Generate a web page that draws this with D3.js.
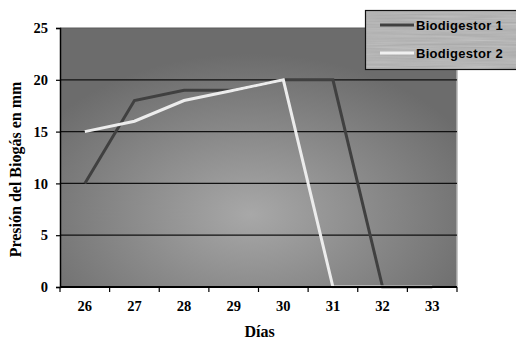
<!DOCTYPE html>
<html>
<head>
<meta charset="utf-8">
<script src="https://cdn.jsdelivr.net/npm/d3@7"></script>
<style>
  html, body { margin: 0; padding: 0; background: #fff; }
  svg { display: block; }
</style>
</head>
<body>
<svg id="chart" width="516" height="341"></svg>
<script>
// Biogas pressure per day for two digesters
const days = ["26", "27", "28", "29", "30", "31", "32", "33"];
const biodigestor1 = [10, 18, 19, 19, 20, 20, 0, 0];
const biodigestor2 = [15, 16, 18, 19, 20, 0, 0, 0];
const seriesNames = ["Biodigestor 1", "Biodigestor 2"];
const yTicks = [0, 5, 10, 15, 20, 25];

const W = 516, H = 341;
const m = { left: 60, right: 59, top: 28, bottom: 54 };
const svg = d3.select("#chart");
const defs = svg.append("defs");
const serif = "'Liberation Serif', 'Times New Roman', serif";

const x = d3.scaleBand().domain(days).range([m.left, W - m.right]).paddingInner(0).paddingOuter(0);
const y = d3.scaleLinear().domain([0, 25]).range([H - m.bottom, m.top]);

// Plot-area shading: lighter in the middle, darker towards the edges
const grad = defs.append("radialGradient").attr("id", "plotBg")
  .attr("cx", "48%").attr("cy", "72%").attr("r", "62%");
grad.append("stop").attr("offset", "0%").attr("stop-color", "#a8a8a8");
grad.append("stop").attr("offset", "100%").attr("stop-color", "#6c6c6c");

// Legend texture
const filt = defs.append("filter").attr("id", "grain").attr("x", 0).attr("y", 0).attr("width", 1).attr("height", 1);
filt.append("feTurbulence").attr("type", "fractalNoise").attr("baseFrequency", "0.015 0.5").attr("numOctaves", 2).attr("seed", 4).attr("result", "n");
filt.append("feColorMatrix").attr("in", "n").attr("type", "matrix")
  .attr("values", "0 0 0 0 0.58  0 0 0 0 0.58  0 0 0 0 0.58  0.9 0 0 0 0").attr("result", "c");
filt.append("feComposite").attr("in", "c").attr("in2", "SourceGraphic").attr("operator", "in");

svg.append("rect")
  .attr("x", m.left).attr("y", m.top)
  .attr("width", W - m.left - m.right).attr("height", H - m.top - m.bottom)
  .attr("fill", "url(#plotBg)");

// right edge highlight of the plot area
svg.append("line")
  .attr("x1", W - m.right).attr("x2", W - m.right)
  .attr("y1", m.top).attr("y2", H - m.bottom)
  .attr("stroke", "#b4b4b4").attr("stroke-width", 1.5);

// horizontal gridlines
svg.append("g").selectAll("line")
  .data(yTicks.filter(d => d > 0 && d < 25))
  .join("line")
  .attr("x1", m.left).attr("x2", W - m.right)
  .attr("y1", d => y(d)).attr("y2", d => y(d))
  .attr("stroke", "#111").attr("stroke-width", 1.2);

// top edge
svg.append("line")
  .attr("x1", m.left).attr("x2", W - m.right)
  .attr("y1", y(25)).attr("y2", y(25))
  .attr("stroke", "#5a5a5a").attr("stroke-width", 1);

// series lines
const line = d3.line().x((d, i) => x(days[i]) + x.bandwidth() / 2).y(d => y(d));
svg.append("path").datum(biodigestor1).attr("d", line)
  .attr("fill", "none").attr("stroke", "#404040").attr("stroke-width", 3);
svg.append("path").datum(biodigestor2).attr("d", line)
  .attr("fill", "none").attr("stroke", "#ececec").attr("stroke-width", 3);

// y axis
const yAxis = svg.append("g").attr("transform", `translate(${m.left},0)`)
  .call(d3.axisLeft(y).tickValues(yTicks).tickSize(4).tickPadding(8));
yAxis.select(".domain").attr("stroke", "#000").attr("stroke-width", 1.5);
yAxis.selectAll(".tick line").attr("stroke", "#000").attr("stroke-width", 1.2);
yAxis.selectAll(".tick text")
  .attr("font-family", serif)
  .attr("font-weight", "bold").attr("font-size", 14.5).attr("fill", "#000");

// x axis: ticks on category boundaries, labels centred in each band
const xAxisG = svg.append("g").attr("transform", `translate(0,${H - m.bottom})`);
xAxisG.append("line")
  .attr("x1", m.left).attr("x2", W - m.right).attr("y1", 0).attr("y2", 0)
  .attr("stroke", "#000").attr("stroke-width", 2);
const edges = days.map(d => x(d)).concat([x(days[days.length - 1]) + x.bandwidth()]);
xAxisG.selectAll("line.tk").data(edges).join("line").attr("class", "tk")
  .attr("x1", d => d).attr("x2", d => d).attr("y1", 0).attr("y2", 5)
  .attr("stroke", "#000").attr("stroke-width", 1.2);
xAxisG.selectAll("text").data(days).join("text")
  .attr("x", d => x(d) + x.bandwidth() / 2).attr("y", 24)
  .attr("text-anchor", "middle")
  .attr("font-family", serif)
  .attr("font-weight", "bold").attr("font-size", 14.5).attr("fill", "#000")
  .text(d => d);

// axis titles
svg.append("text")
  .attr("transform", `translate(21,${(m.top + H - m.bottom) / 2 + 12}) rotate(-90)`)
  .attr("text-anchor", "middle")
  .attr("font-family", serif)
  .attr("font-weight", "bold").attr("font-size", 16).attr("fill", "#000")
  .text("Presión del Biogás en mm");
svg.append("text")
  .attr("x", (m.left + W - m.right) / 2 + 1).attr("y", 337)
  .attr("text-anchor", "middle")
  .attr("font-family", serif)
  .attr("font-weight", "bold").attr("font-size", 16).attr("fill", "#000")
  .text("Días");

// legend
const lg = svg.append("g").attr("transform", "translate(365,10)");
lg.append("rect").attr("width", 152).attr("height", 60).attr("fill", "#a4a4a4");
lg.append("rect").attr("width", 152).attr("height", 60).attr("fill", "#a4a4a4").attr("filter", "url(#grain)");
lg.append("rect").attr("x", 0.5).attr("y", 0.5).attr("width", 152).attr("height", 59)
  .attr("fill", "none").attr("stroke", "#111").attr("stroke-width", 1.2);
const legendColors = ["#404040", "#f0f0f0"];
seriesNames.forEach((name, i) => {
  const ly = 15 + i * 28;
  lg.append("line").attr("x1", 15).attr("x2", 49).attr("y1", ly).attr("y2", ly)
    .attr("stroke", legendColors[i]).attr("stroke-width", 3);
  lg.append("text").attr("x", 51).attr("y", ly + 5)
    .attr("font-family", "'Liberation Sans', Arial, sans-serif")
    .attr("font-weight", "bold").attr("font-size", 13).attr("letter-spacing", 0.3).attr("fill", "#000")
    .text(name);
});
</script>
</body>
</html>
